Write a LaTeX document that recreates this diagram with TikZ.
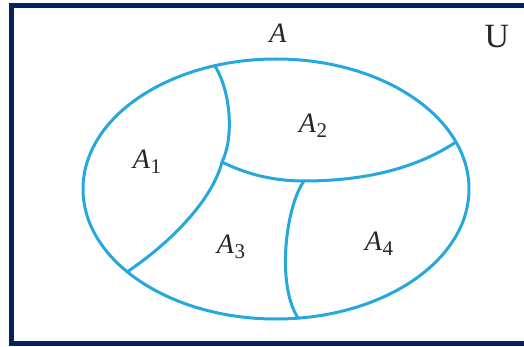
\documentclass[tikz,border=0pt]{standalone}
\usepackage{fontspec}
\setmainfont{Liberation Serif}
\usepackage{xcolor}
\usepackage{tikz}
\definecolor{framenavy}{RGB}{4,34,96}
\definecolor{setblue}{RGB}{38,168,222}
\tikzstyle{frameline} = [line width=5pt, draw=framenavy]
\tikzstyle{setline}   = [line width=3pt, draw=setblue]
\tikzstyle{setname}   = [inner sep=0pt, text=black!85,
                         font=\fontsize{28}{30}\selectfont]
\newcommand{\piecename}[1]{\textit{A}\kern0.5pt\raisebox{-0.4ex}{\fontsize{21}{21}\selectfont #1}}

\begin{document}
\begin{tikzpicture}[x=1pt, y=-1pt]
  \useasboundingbox (0,0) rectangle (524,347);
  \draw[frameline] (524,6) -- (11.5,6) -- (11.5,343.5) -- (524,343.5);

  % universal set and the set A
  \node[setname] (uni) at (497,37) {\fontsize{34}{36}\selectfont U};
  \node[setname] (seta) at (278,33) {\textit{A}};
  \draw[setline] (276,189) ellipse [x radius=193, y radius=130];

  % junctions of the partition
  \coordinate (top)   at (215,66);
  \coordinate (mid)   at (222,162);
  \coordinate (low)   at (127,272);
  \coordinate (right) at (456,142);
  \coordinate (split) at (304,181);
  \coordinate (bot)   at (298,318);

  \draw[setline] (top) .. controls (231,92) and (234,138) .. (mid);
  \draw[setline] (mid) .. controls (214,194) and (180,236) .. (low);
  \draw[setline] (mid) .. controls (250,176) and (278,181) .. (split);
  \draw[setline] (split) .. controls (370,181) and (420,166) .. (right);
  \draw[setline] (split) .. controls (286,206) and (276,284) .. (bot);

  % parts
  \node[setname] (a1) at (147,162) {\piecename{1}};
  \node[setname] (a2) at (313,126) {\piecename{2}};
  \node[setname] (a3) at (231,247) {\piecename{3}};
  \node[setname] (a4) at (379,244) {\piecename{4}};
\end{tikzpicture}
\end{document}
